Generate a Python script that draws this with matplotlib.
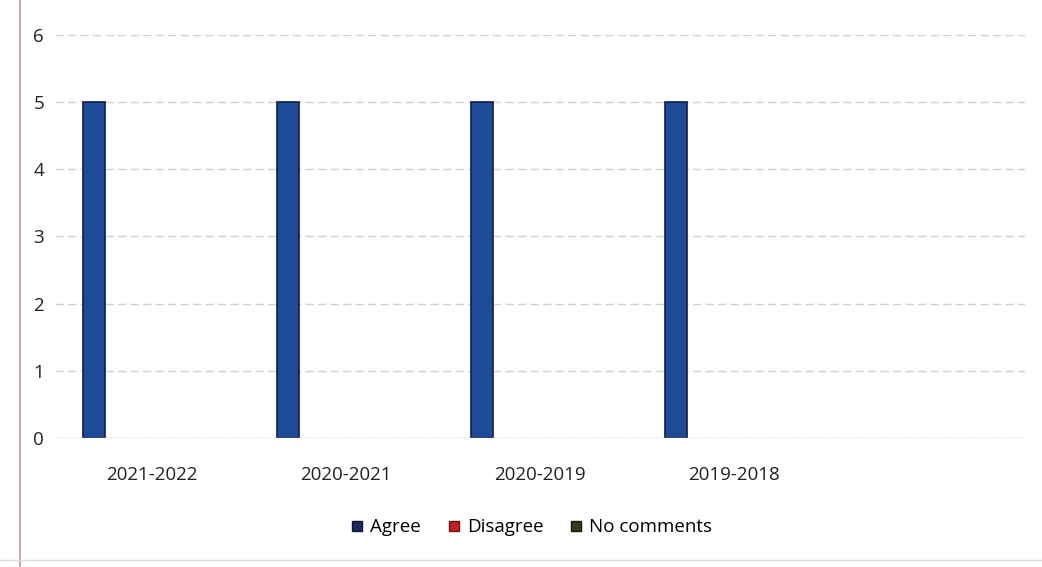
import numpy as np
import matplotlib.pyplot as plt
from matplotlib.lines import Line2D

categories = ["2021-2022", "2020-2021", "2020-2019", "2019-2018", ""]
agree = [5, 5, 5, 5, 0]
disagree = [0, 0, 0, 0, 0]
no_comments = [0, 0, 0, 0, 0]
yticks = [0, 1, 2, 3, 4, 5, 6]

plt.rcParams['font.family'] = ['Open Sans', 'DejaVu Sans']

fig = plt.figure(figsize=(10.42, 5.67), dpi=100)
ax = fig.add_axes([0.053, 0.228, 0.931, 0.71])

x = np.arange(len(categories))
w = 0.115
off = 0.3
ax.bar(x - off, agree, width=w, color="#1d4b96", edgecolor="#0d1f4a", linewidth=1.2, label="Agree")
ax.bar(x, disagree, width=w, color="#c0202a", linewidth=0, label="Disagree")
ax.bar(x + off, no_comments, width=w, color="#2f3d1c", linewidth=0, label="No comments")
# hide outline of empty bars
for p, v in zip(ax.patches[:len(agree)], agree):
    if v == 0:
        p.set_linewidth(0)

ax.set_xlim(-0.5, len(categories) - 0.5)
ax.set_ylim(0, 6)
ax.set_yticks(yticks)
ax.set_xticks(x)
ax.set_xticklabels(categories, fontsize=13.5, color="#222222")
ax.tick_params(axis="y", labelsize=13.5, colors="#222222", length=0, pad=8)
ax.tick_params(axis="x", length=0, pad=20)
ax.grid(axis="y", color="#d0d0d0", linewidth=1.0, linestyle=(0, (6, 3)))
ax.set_axisbelow(True)
for s in ax.spines.values():
    s.set_visible(False)
ax.axhline(0, color="#c8c8c8", linewidth=1.0)

handles = [
    Line2D([], [], marker="s", linestyle="", markersize=7, color="#1a2a60", markeredgecolor="#101830"),
    Line2D([], [], marker="s", linestyle="", markersize=7, color="#c0202a", markeredgecolor="#701015"),
    Line2D([], [], marker="s", linestyle="", markersize=7, color="#2f3d1c", markeredgecolor="#151a0a"),
]
fig.legend(handles, ["Agree", "Disagree", "No comments"], loc="center",
           bbox_to_anchor=(0.51, 0.07), ncol=3, frameon=False, fontsize=13.5,
           handlelength=0.7, handletextpad=0.35, columnspacing=1.4)

# scanned page border
fig.add_artist(Line2D([0.019, 0.019], [0.0, 1.0], color="#c9a8a8", linewidth=1.5))
fig.add_artist(Line2D([0.0, 1.0], [0.012, 0.012], color="#dddddd", linewidth=1.0))

fig.savefig("out.png", dpi=100)
